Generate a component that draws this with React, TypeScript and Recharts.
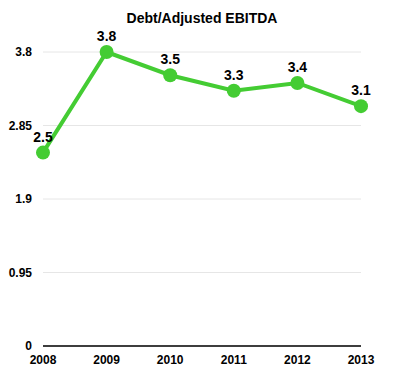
import {
  LineChart,
  Line,
  XAxis,
  YAxis,
  CartesianGrid,
  LabelList,
} from "recharts";

const years = ["2008", "2009", "2010", "2011", "2012", "2013"];
const ratios = [2.5, 3.8, 3.5, 3.3, 3.4, 3.1];
const yTicks = [0, 0.95, 1.9, 2.85, 3.8];

const data = years.map((year, i) => ({ year, ratio: ratios[i] }));

const FONT = "'Liberation Sans', Arial, Helvetica, sans-serif";
const GREEN = "#44cc33";

export default function App() {
  return (
    <div
      style={{
        position: "absolute",
        left: 0,
        top: 0,
        width: 396,
        height: 390,
        background: "#fff",
        fontFamily: FONT,
      }}
    >
      <div
        style={{
          position: "absolute",
          left: 0,
          top: 9,
          width: 404,
          textAlign: "center",
          fontSize: 14,
          fontWeight: "bold",
          color: "#000",
          lineHeight: "18px",
        }}
      >
        Debt/Adjusted EBITDA
      </div>
      <LineChart
        width={396}
        height={390}
        data={data}
        margin={{ top: 52, right: 35, bottom: 20, left: 0 }}
      >
        <CartesianGrid stroke="#e6e6e6" vertical={false} />
        <XAxis
          dataKey="year"
          padding={{ left: 0, right: 0 }}
          stroke="#000"
          strokeWidth={1.5}
          tickLine={false}
          tickMargin={3}
          height={24}
          tick={{ fill: "#000", fontSize: 12, fontWeight: "bold", fontFamily: FONT }}
        />
        <YAxis
          width={43}
          domain={[0, 3.8]}
          ticks={yTicks}
          axisLine={false}
          tickLine={false}
          tickMargin={5}
          tick={{ fill: "#000", fontSize: 12, fontWeight: "bold", fontFamily: FONT }}
        />
        <Line
          dataKey="ratio"
          type="linear"
          stroke={GREEN}
          strokeWidth={4}
          dot={{ r: 7, fill: GREEN, stroke: GREEN, strokeWidth: 0 }}
          isAnimationActive={false}
        >
          <LabelList
            dataKey="ratio"
            position="top"
            offset={11}
            formatter={(v: number) => v.toFixed(1)}
            style={{ fill: "#000", fontSize: 14, fontWeight: "bold", fontFamily: FONT }}
          />
        </Line>
      </LineChart>
    </div>
  );
}
